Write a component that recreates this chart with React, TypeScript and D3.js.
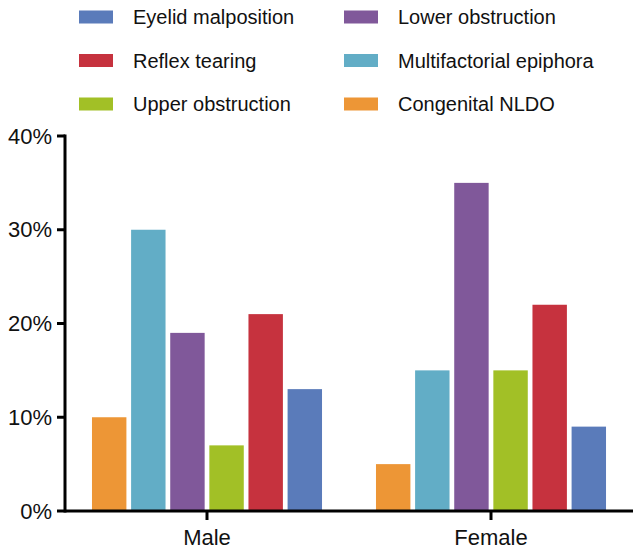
import React from 'react';
import { scaleBand, scaleLinear } from 'd3';

const groups = ['Male', 'Female'];
// bar order inside each group (left to right)
const series = [
  'Congenital NLDO',
  'Multifactorial epiphora',
  'Lower obstruction',
  'Upper obstruction',
  'Reflex tearing',
  'Eyelid malposition',
];
const maleValues = [10, 30, 19, 7, 21, 13];
const femaleValues = [5, 15, 35, 15, 22, 9];
const yTicks = [0, 10, 20, 30, 40];

const colors: Record<string, string> = {
  'Congenital NLDO': '#ED9636',
  'Multifactorial epiphora': '#62ADC6',
  'Lower obstruction': '#80589A',
  'Upper obstruction': '#A2C026',
  'Reflex tearing': '#C6323E',
  'Eyelid malposition': '#5A7BBA',
};

// legend layout, column by column
const legendLeft = ['Eyelid malposition', 'Reflex tearing', 'Upper obstruction'];
const legendRight = ['Lower obstruction', 'Multifactorial epiphora', 'Congenital NLDO'];

const W = 642;
const H = 552;
const margin = { top: 136, right: 9, bottom: 41, left: 65 };
const font = '"Liberation Sans", Arial, Helvetica, sans-serif';

export default function App() {
  const values: Record<string, number[]> = { Male: maleValues, Female: femaleValues };

  const x0 = scaleBand<string>()
    .domain(groups)
    .range([margin.left, W - margin.right])
    .paddingInner(0.19)
    .paddingOuter(0.095);

  const x1 = scaleBand<string>()
    .domain(series)
    .range([0, x0.bandwidth()])
    .paddingInner(0.12)
    .paddingOuter(0);

  const y = scaleLinear().domain([0, 40]).range([H - margin.bottom, margin.top]);

  const legendRow = (i: number) => 17 + i * 43.5;

  return (
    <svg width={W} height={H} style={{ position: 'absolute', left: 0, top: 0 }} fontFamily={font}>
      {/* legend */}
      {[legendLeft, legendRight].map((col, ci) =>
        col.map((name, i) => (
          <g key={name} transform={`translate(${ci === 0 ? 79 : 344},${legendRow(i)})`}>
            <rect x={0} y={-6.5} width={34} height={13} fill={colors[name]} />
            <text x={54} y={0} dy="0.35em" fontSize={20} fill="#111">
              {name}
            </text>
          </g>
        ))
      )}

      {/* bars */}
      {groups.map(g => (
        <g key={g} transform={`translate(${x0(g)},0)`}>
          {series.map((s, i) => (
            <rect
              key={s}
              x={x1(s)}
              y={y(values[g][i])}
              width={x1.bandwidth()}
              height={y(0) - y(values[g][i])}
              fill={colors[s]}
            />
          ))}
        </g>
      ))}

      {/* y axis */}
      <line x1={margin.left} x2={margin.left} y1={y(40) - 1.5} y2={y(0) + 1.5} stroke="#000" strokeWidth={3} />
      {yTicks.map(t => (
        <g key={t}>
          <line x1={margin.left - 8} x2={margin.left} y1={y(t)} y2={y(t)} stroke="#000" strokeWidth={3} />
          <text x={margin.left - 13} y={y(t)} dy="0.35em" textAnchor="end" fontSize={22} fill="#111">
            {t}%
          </text>
        </g>
      ))}

      {/* x axis */}
      <line x1={margin.left} x2={W - margin.right} y1={y(0)} y2={y(0)} stroke="#000" strokeWidth={3} />
      {groups.map(g => {
        const cx = (x0(g) as number) + x0.bandwidth() / 2;
        return (
          <g key={g}>
            <line x1={cx} x2={cx} y1={y(0)} y2={y(0) + 9} stroke="#000" strokeWidth={3} />
            <text x={cx} y={545} textAnchor="middle" fontSize={22} fill="#111">
              {g}
            </text>
          </g>
        );
      })}
    </svg>
  );
}
